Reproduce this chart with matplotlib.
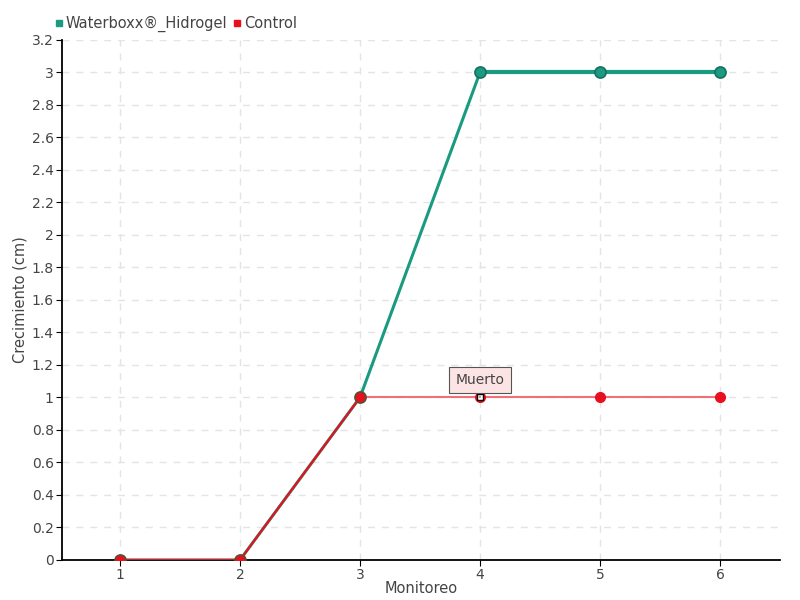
import numpy as np
import matplotlib.pyplot as plt

monitoreo = [1, 2, 3, 4, 5, 6]
waterboxx = [0, 0, 1, 3, 3, 3]
control = [0, 0, 1, 1, 1, 1]
yticks = [0, 0.2, 0.4, 0.6, 0.8, 1, 1.2, 1.4, 1.6, 1.8, 2, 2.2, 2.4, 2.6, 2.8, 3, 3.2]

plt.rcParams['font.family'] = ['DejaVu Sans']

fig = plt.figure(figsize=(8, 6), dpi=100)
ax = fig.add_axes([0.0775, 0.0667, 0.8975, 0.8667])

green = '#1a9a80'
red = '#e8101e'

ax.plot(monitoreo[:4], waterboxx[:4], color=green, lw=2.2, zorder=3)
ax.plot(monitoreo[3:], waterboxx[3:], color=green, lw=3, zorder=3)
ax.plot(monitoreo[3:], waterboxx[3:], ls='none', marker='o', ms=8,
        mfc=green, mec='#177060', mew=1.2, zorder=3)
ax.plot(monitoreo[:3], control[:3], color=red, lw=1.6, zorder=4)
ax.plot(monitoreo[2:], control[2:], color='#f07078', lw=1.5, zorder=4)
ax.plot(monitoreo[:3], control[:3], ls='none', marker='o', ms=8, mfc=red,
        mec='#5a5030', mew=1.2, zorder=5)
ax.plot(monitoreo[4:], control[4:], ls='none', marker='o', ms=7, mfc=red,
        mec=red, zorder=5)
ax.plot([4], [control[3]], ls='none', marker='o', ms=7, mfc=red, mec=red, zorder=5)
ax.plot([4], [control[3]], ls='none', marker='s', ms=4, mfc='white', mec='black',
        mew=1, zorder=6)

ax.annotate('Muerto', xy=(4, 1), xytext=(4, 1.065), ha='center', va='bottom',
            fontsize=10, color='#444444',
            bbox=dict(boxstyle='square,pad=0.45', fc='#fde4e4', ec='#555555', lw=0.8),
            arrowprops=dict(arrowstyle='-', color='#555555', lw=0.8), zorder=7)

ax.set_xlim(0.517, 6.5)
ax.set_ylim(0, 3.2)
ax.set_xticks(monitoreo)
ax.set_yticks(yticks)
ax.set_yticklabels([('%g' % v) for v in yticks])
ax.tick_params(labelsize=10, colors='#444444', length=4, pad=2)
ax.tick_params(axis='both', color='black')
ax.grid(True, ls=(0, (5, 5)), color='#e4e4e4', lw=1)
ax.set_axisbelow(True)
for s in ['top', 'right']:
    ax.spines[s].set_visible(False)
ax.spines['left'].set_linewidth(1.3)
ax.spines['bottom'].set_linewidth(1.3)

ax.set_xlabel('Monitoreo', fontsize=10.5, color='#444444', labelpad=-1)
ax.set_ylabel('Crecimiento (cm)', fontsize=10.5, color='#444444', labelpad=3)

handles = [plt.Line2D([], [], color=green, marker='s', ls='none', ms=5),
           plt.Line2D([], [], color=red, marker='s', ls='none', ms=5)]
fig.legend(handles, ['Waterboxx®_Hidrogel', 'Control'], loc='upper left',
           bbox_to_anchor=(0.05, 0.995), ncol=2, frameon=False, fontsize=10.5,
           handletextpad=0.05, columnspacing=0.3, handlelength=0.8,
           labelcolor='#444444')

fig.savefig('out.png', dpi=100)
